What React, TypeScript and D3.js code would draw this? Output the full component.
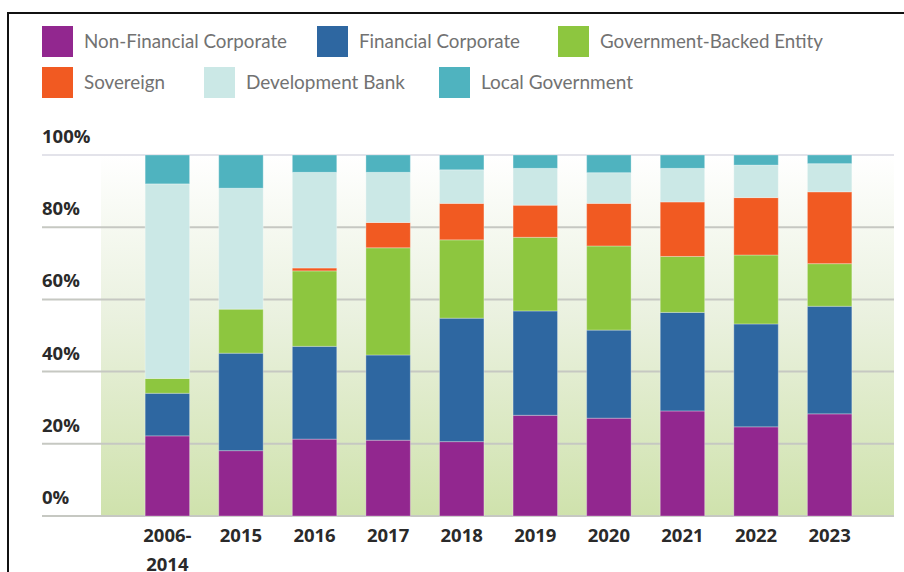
import React from "react";
import * as d3 from "d3";

const categories = ["2006-2014", "2015", "2016", "2017", "2018", "2019", "2020", "2021", "2022", "2023"];
const seriesNames = [
  "Non-Financial Corporate",
  "Financial Corporate",
  "Government-Backed Entity",
  "Sovereign",
  "Development Bank",
  "Local Government",
];
const nonFinancial = [22.2, 18.1, 21.3, 21.0, 20.6, 27.9, 27.1, 29.1, 24.7, 28.3];
const financial = [11.8, 27.0, 25.7, 23.6, 34.2, 28.9, 24.4, 27.3, 28.5, 29.8];
const govBacked = [4.1, 12.2, 20.9, 29.7, 21.7, 20.4, 23.3, 15.5, 19.1, 11.8];
const sovereign = [0, 0, 0.8, 7.0, 10.1, 8.9, 11.8, 15.1, 15.9, 19.9];
const devBank = [53.9, 33.5, 26.5, 13.9, 9.3, 10.2, 8.5, 9.3, 9.0, 7.8];
const localGov = [8.0, 9.2, 4.8, 4.8, 4.1, 3.7, 4.9, 3.7, 2.8, 2.4];
const yTicks = [0, 20, 40, 60, 80, 100];

const colors = ["#92278f", "#2e67a1", "#8dc63f", "#f15a22", "#cbe8e6", "#4fb3bf"];
const legendPos = [
  [42, 26],
  [317, 26],
  [558, 26],
  [42, 67],
  [204, 67],
  [439, 67],
];
const legendTextWidths = [203, 161, 223, 81, 159, 152];

const W = 904;
const H = 572;

export default function App() {
  const values = [nonFinancial, financial, govBacked, sovereign, devBank, localGov];
  const table = categories.map((c, i) => {
    const row: Record<string, any> = { cat: c };
    seriesNames.forEach((s, k) => (row[s] = values[k][i]));
    return row;
  });
  const stacked = d3.stack<any>().keys(seriesNames)(table);

  const x = d3
    .scaleBand<string>()
    .domain(categories)
    .range([101, 896])
    .paddingInner(0.396)
    .paddingOuter(0.6);
  const y = d3.scaleLinear().domain([0, 100]).range([516, 155]);

  const plotLeft = 101;
  const plotRight = 894;

  return (
    <svg
      width={W}
      height={H}
      style={{ position: "absolute", left: 0, top: 0, background: "#fff" }}
    >
      <defs>
        <linearGradient id="bg" x1="0" y1="0" x2="0" y2="1">
          <stop offset="0" stopColor="#ffffff" />
          <stop offset="0.45" stopColor="#eaf1df" />
          <stop offset="1" stopColor="#cfe2ac" />
        </linearGradient>
      </defs>
      {/* border */}
      <rect x={8} y={13} width={1000} height={1000} fill="none" stroke="#111" strokeWidth={2} />

      {/* legend */}
      {seriesNames.map((s, i) => (
        <g key={s} transform={`translate(${legendPos[i][0]},${legendPos[i][1]})`}>
          <rect x={0} y={0} width={31} height={31} fill={colors[i]} />
          <text
            x={42}
            y={22}
            fontFamily="Lato, 'Open Sans', sans-serif"
            fontSize={19.5}
            fill="#727272"
            textLength={legendTextWidths[i]}
            lengthAdjust="spacingAndGlyphs"
          >
            {s}
          </text>
        </g>
      ))}

      {/* plot background */}
      <rect x={plotLeft} y={y(100)} width={plotRight - plotLeft} height={y(0) - y(100)} fill="url(#bg)" />

      {/* gridlines */}
      {yTicks.map((t) => (
        <g key={t}>
          <line
            x1={42}
            x2={plotRight}
            y1={y(t)}
            y2={y(t)}
            stroke={t === 100 ? "#e3e3ea" : "#c6c8c2"}
            strokeWidth={2}
          />
          <text
            x={42}
            y={y(t) - 12}
            fontFamily="'Open Sans', sans-serif"
            fontWeight={700}
            fontSize={18.5}
            fill="#2a2a2a"
          >
            {t}%
          </text>
        </g>
      ))}

      {/* bars */}
      {stacked.map((layer, k) => (
        <g key={layer.key}>
          {layer.map((d, i) =>
            d[1] - d[0] > 0 ? (
              <rect
                key={i}
                x={x(categories[i])}
                y={y(d[1])}
                width={x.bandwidth()}
                height={y(d[0]) - y(d[1])}
                fill={colors[k]}
                stroke="#ffffff"
                strokeOpacity={0.3}
                strokeWidth={1}
              />
            ) : null
          )}
        </g>
      ))}

      {/* x labels */}
      {categories.map((c) => {
        const parts = c.includes("-") ? [c.split("-")[0] + "-", c.split("-")[1]] : [c];
        const cx = (x(c) as number) + x.bandwidth() / 2;
        return (
          <text
            key={c}
            x={cx}
            y={542}
            textAnchor="middle"
            fontFamily="'Open Sans', sans-serif"
            fontWeight={700}
            fontSize={18.5}
            fill="#2a2a2a"
          >
            {parts.map((p, j) => (
              <tspan key={j} x={cx} dy={j === 0 ? 0 : 29}>
                {p}
              </tspan>
            ))}
          </text>
        );
      })}
    </svg>
  );
}
